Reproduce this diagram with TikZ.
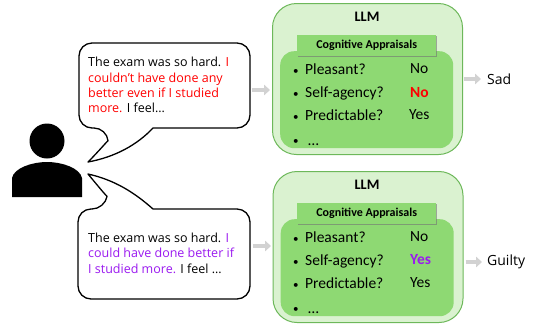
\documentclass[tikz,border=0pt]{standalone}
\usepackage{fontspec}
\setmainfont{Carlito}
\newfontfamily\bubblefont{Open Sans}
\usetikzlibrary{arrows.meta,shadows}
\definecolor{outerfill}{HTML}{DAF2D0}
\definecolor{outerline}{HTML}{6DB85A}
\definecolor{innerfill}{HTML}{8ED973}
\definecolor{arrowgrey}{HTML}{D2D2D2}
\definecolor{purp}{HTML}{9B1AF0}
\tikzset{
  bubble/.style={draw=black,line width=1.3pt,fill=white,line join=round},
  outerbox/.style={draw=outerline,line width=1pt,fill=outerfill,rounded corners=24pt,minimum width=190pt,inner sep=0pt,anchor=north west},
  innerbox/.style={fill=innerfill,rounded corners=14pt,minimum width=173pt,minimum height=97pt,inner sep=0pt,anchor=north west},
  headerbox/.style={fill=innerfill,minimum width=139pt,minimum height=21pt,inner sep=0pt,anchor=north west,
    drop shadow={shadow xshift=1.2pt,shadow yshift=-1.2pt,fill=black!55,opacity=.6},font=\fontsize{12}{14}\selectfont\bfseries},
  llmtitle/.style={font=\fontsize{14.5}{16}\selectfont\bfseries,inner sep=0pt},
  rowtext/.style={font=\fontsize{15.5}{17}\selectfont,anchor=base west,inner sep=0pt},
  dotmark/.style={font=\fontsize{11}{14}\selectfont,anchor=base west,inner sep=0pt},
  bubbletext/.style={font=\bubblefont\fontsize{12.5}{15.4}\selectfont,align=left,anchor=north west,inner sep=0pt},
  outtext/.style={font=\bubblefont\fontsize{14}{16}\selectfont,anchor=west,inner sep=0pt},
  flow/.style={arrowgrey,line width=4.5pt,-{Triangle[length=6pt,width=10.5pt]}},
}
\begin{document}
\begin{tikzpicture}[x=1pt,y=-1pt]
\useasboundingbox (0,0) rectangle (533,325);
% person
\node[circle,fill=black,minimum size=35pt,inner sep=0pt] (head) at (47,141) {};
\fill[black] (12,197) -- (12,178) .. controls (14,168) and (32,162) .. (47,162)
  .. controls (62,162) and (80,168) .. (82,178) -- (82,197) -- cycle;
% bubbles
\draw[bubble] (153,128) [rounded corners=13pt] -- (250,128) -- (250,43) -- (79,43) -- (79,128) -- (107,128) [sharp corners]
  .. controls (108,140) and (100,150) .. (88,162)
  .. controls (115,157) and (137,145) .. (153,128) -- cycle;
\draw[bubble] (153,209) [rounded corners=13pt] -- (250,209) -- (250,299) -- (78,299) -- (78,209) -- (105,209) [sharp corners]
  .. controls (107,197) and (98,186) .. (88,174)
  .. controls (115,180) and (135,193) .. (153,209) -- cycle;
\node[bubbletext] (t1) at (88,57) {The exam was so hard. \textcolor{red}{I}\\\textcolor{red}{couldn’t have done any}\\\textcolor{red}{better even if I studied}\\\textcolor{red}{more.} I feel…};
\node[bubbletext] (t2) at (88,232.5) {The exam was so hard. \textcolor{purp}{I}\\\textcolor{purp}{could have done better if}\\\textcolor{purp}{I studied more.} I feel …};
% LLM A
\node[outerbox,minimum height=151pt] (llmA) at (272,3) {};
\node[llmtitle] (titleA) at (367,17) {LLM};
\node[innerbox] (innerA) at (280,51) {};
\node[headerbox] (headA) at (297,35) {Cognitive Appraisals};
\foreach \y/\t in {74/Pleasant?,97/Self-agency?,120/Predictable?}{
  \node[dotmark] at (293,\y) {•};
  \node[rowtext] at (305,\y) {\t};
}
\node[dotmark] at (293,144) {•};
\node[rowtext] (dotsA) at (308,145) {…};
\node[rowtext] (a1) at (410,73) {No};
\node[rowtext] (a2) at (410,97) {\textcolor{red}{\textbf{No}}};
\node[rowtext] (a3) at (409,119) {Yes};
% LLM B
\node[outerbox,minimum height=151pt] (llmB) at (272.5,171) {};
\node[llmtitle] (titleB) at (367,185) {LLM};
\node[innerbox] (innerB) at (280.5,219) {};
\node[headerbox] (headB) at (297,203) {Cognitive Appraisals};
\foreach \y/\t in {242/Pleasant?,265/Self-agency?,288/Predictable?}{
  \node[dotmark] at (293,\y) {•};
  \node[rowtext] at (305,\y) {\t};
}
\node[dotmark] at (293,312) {•};
\node[rowtext] (dotsB) at (308,313) {…};
\node[rowtext] (b1) at (410,241) {No};
\node[rowtext] (b2) at (410,264) {\textcolor{purp}{\textbf{Yes}}};
\node[rowtext] (b3) at (410,287) {Yes};
% outputs
\node[outtext] (sad) at (487,79) {Sad};
\node[outtext] (guilty) at (487,262) {Guilty};
% flows
\coordinate (inA) at (252,90); \coordinate (inAe) at (llmA.west |- inA);
\coordinate (inB) at (253,246); \coordinate (inBe) at (llmB.west |- inB);
\draw[flow] (inA) -- ([xshift=-2pt]inAe);
\draw[flow] (inB) -- ([xshift=-1.5pt]inBe);
\draw[flow] ([xshift=1pt]llmA.east |- sad) -- ([xshift=-6pt]sad.west);
\draw[flow] ([xshift=2pt]llmB.east |- guilty) -- ([xshift=-5pt]guilty.west);
\end{tikzpicture}
\end{document}
